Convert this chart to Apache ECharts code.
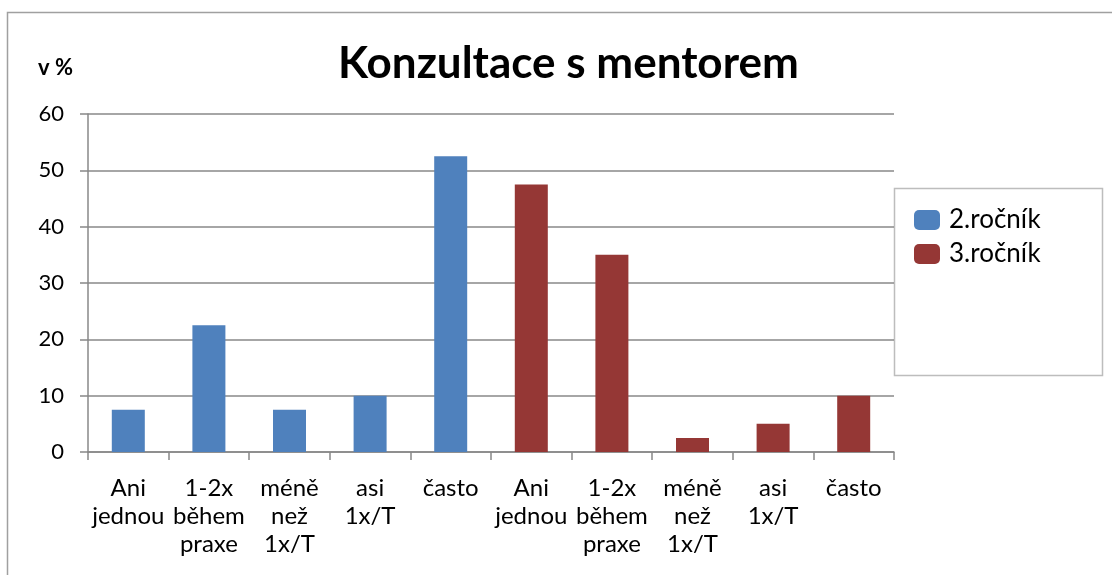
<!DOCTYPE html>
<html>
<head>
<meta charset="utf-8">
<script src="https://cdn.jsdelivr.net/npm/echarts@6/dist/echarts.min.js"></script>
<style>
  html, body { margin: 0; padding: 0; background: #fff; }
  #chart { width: 1112px; height: 575px; }
</style>
</head>
<body>
<div id="chart"></div>
<script>
// odpovedi (kategorie) - 2. rocnik pak 3. rocnik
const categories = [
  'Ani\njednou', '1-2x\nběhem\npraxe', 'méně\nnež\n1x/T', 'asi\n1x/T', 'často',
  'Ani\njednou', '1-2x\nběhem\npraxe', 'méně\nnež\n1x/T', 'asi\n1x/T', 'často'
];
const rocnik2 = [7.5, 22.5, 7.5, 10, 52.5];
const rocnik3 = [47.5, 35, 2.5, 5, 10];
const yTicks = [0, 10, 20, 30, 40, 50, 60];

const empty = ['-', '-', '-', '-', '-'];
const font = 'Lato, "Open Sans", sans-serif';

let chart = echarts.init(document.getElementById('chart'));
chart.setOption({
  animation: false,
  textStyle: { fontFamily: font },
  title: {
    text: 'Konzultace s mentorem',
    left: 333,
    top: 37,
    textStyle: { fontSize: 44, fontWeight: 'bold', color: '#000', fontFamily: font }
  },
  graphic: [
    {
      type: 'rect',
      shape: { x: 7.5, y: 12.5, width: 1200, height: 700 },
      style: { fill: 'none', stroke: '#a0a0a0', lineWidth: 1.5 },
      silent: true
    },
    {
      type: 'rect',
      shape: { x: 894.5, y: 188.5, width: 208, height: 187 },
      style: { fill: '#fff', stroke: '#bdbdbd', lineWidth: 1.5 },
      silent: true
    },
    {
      type: 'text',
      left: 38,
      top: 57,
      style: { text: 'v %', font: 'bold 22px ' + font, fill: '#000' }
    }
  ],
  legend: {
    orient: 'vertical',
    left: 909,
    top: 202,
    itemWidth: 26,
    itemHeight: 20,
    itemGap: 8,
    icon: 'roundRect',
    textStyle: { fontSize: 26, lineHeight: 26, color: '#000', fontFamily: font, padding: [0, 0, 0, 4] },
    data: ['2.ročník', '3.ročník']
  },
  grid: { left: 88, right: 218, top: 114, bottom: 123 },
  xAxis: {
    type: 'category',
    data: categories,
    axisLine: { lineStyle: { color: '#888', width: 1.5 } },
    axisTick: { show: true, length: 8, interval: 0, lineStyle: { color: '#888', width: 1.5 } },
    axisLabel: {
      interval: 0, fontSize: 24, lineHeight: 28, color: '#000', margin: 22, fontFamily: font
    }
  },
  yAxis: {
    type: 'value',
    min: yTicks[0],
    max: yTicks[yTicks.length - 1],
    interval: 10,
    axisLine: { show: true, lineStyle: { color: '#888', width: 1.5 } },
    axisTick: { show: true, length: 8, lineStyle: { color: '#888', width: 1.5 } },
    axisLabel: { fontSize: 22, color: '#000', margin: 24, fontFamily: font },
    splitLine: { lineStyle: { color: '#888', width: 1.5 } }
  },
  series: [
    {
      name: '2.ročník',
      type: 'bar',
      barWidth: 33,
      barGap: '-100%',
      itemStyle: { color: '#4f81bd' },
      data: rocnik2.concat(empty)
    },
    {
      name: '3.ročník',
      type: 'bar',
      barWidth: 33,
      itemStyle: { color: '#953735' },
      data: empty.concat(rocnik3)
    }
  ]
});
</script>
</body>
</html>
